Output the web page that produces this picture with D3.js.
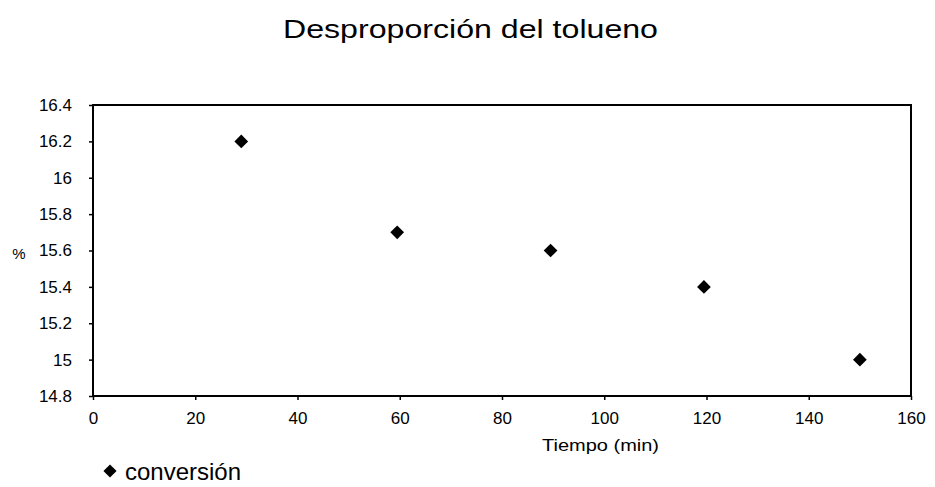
<!DOCTYPE html>
<html><head><meta charset="utf-8">
<script src="https://cdn.jsdelivr.net/npm/d3@7"></script>
<style>body{margin:0;background:#fff}svg{display:block}text{font-family:Arial,"Liberation Sans",sans-serif;fill:#000}</style>
</head><body>
<script>
const title = "Desproporción del tolueno";
const xLabel = "Tiempo (min)";
const yLabel = "%";
const seriesName = "conversión";
const tiempo = [29, 59.5, 89.5, 119.5, 150];
const conversion = [16.2, 15.7, 15.6, 15.4, 15.0];
const xTicks = [0, 20, 40, 60, 80, 100, 120, 140, 160];
const yTicks = [14.8, 15, 15.2, 15.4, 15.6, 15.8, 16, 16.2, 16.4];

const W = 935, H = 487;
const m = {left: 93, right: 911, top: 105, bottom: 396};
const svg = d3.select("body").append("svg").attr("width", W).attr("height", H);
const x = d3.scaleLinear().domain([0, 160]).range([m.left, m.right]);
const y = d3.scaleLinear().domain([14.8, 16.4]).range([m.bottom, m.top]);

svg.append("text").attr("x", 283).attr("y", 38)
  .attr("textLength", 375).attr("lengthAdjust", "spacingAndGlyphs")
  .style("font-size", "26px").text(title);

svg.append("rect").attr("x", m.left).attr("y", m.top)
  .attr("width", m.right - m.left).attr("height", m.bottom - m.top)
  .attr("fill", "none").attr("stroke", "#000").attr("stroke-width", 2);

const xa = svg.append("g").attr("transform", `translate(0,${m.bottom})`)
  .call(d3.axisBottom(x).tickValues(xTicks).tickSize(4).tickPadding(12).tickFormat(d3.format("d")));
xa.select(".domain").remove();
xa.selectAll("line").attr("stroke", "#000").attr("stroke-width", 1.5);
xa.selectAll("text").style("font-size", "17px").attr("fill", "#000");

const ya = svg.append("g").attr("transform", `translate(${m.left},0)`)
  .call(d3.axisLeft(y).tickValues(yTicks).tickSize(4).tickPadding(17).tickFormat(d => String(+d.toFixed(1))));
ya.select(".domain").remove();
ya.selectAll("line").attr("stroke", "#000").attr("stroke-width", 1.5);
ya.selectAll("text").style("font-size", "17px").attr("fill", "#000");

svg.append("text").attr("x", 542).attr("y", 451)
  .attr("textLength", 117).attr("lengthAdjust", "spacingAndGlyphs")
  .style("font-size", "16px").text(xLabel);
svg.append("text").attr("x", 19).attr("y", 259).attr("text-anchor", "middle")
  .style("font-size", "15px").text(yLabel);

const diamond = d3.symbol().type(d3.symbolDiamond2).size(120);
svg.append("g").selectAll("path").data(tiempo).join("path")
  .attr("transform", (d, i) => `translate(${x(d)},${y(conversion[i])})`)
  .attr("d", diamond).attr("fill", "#000");

svg.append("path").attr("transform", "translate(110,471)")
  .attr("d", d3.symbol().type(d3.symbolDiamond2).size(110)).attr("fill", "#000");
svg.append("text").attr("x", 125).attr("y", 480).style("font-size", "24px").text(seriesName);
</script>
</body></html>
